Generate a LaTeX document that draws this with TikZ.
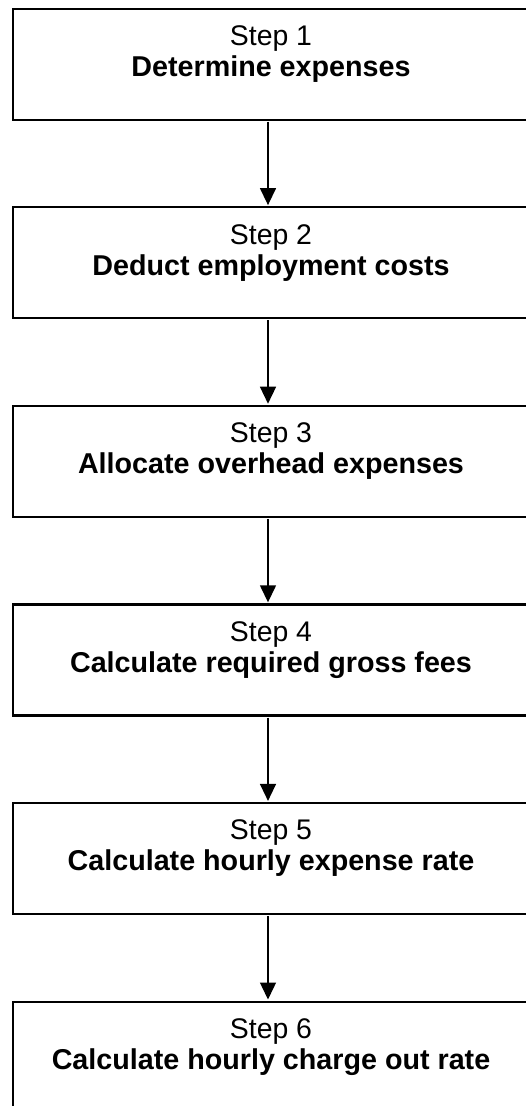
\documentclass[tikz,border=0pt]{standalone}
\usepackage{fontspec}
\setmainfont{Liberation Sans}
\usetikzlibrary{arrows.meta}
\tikzset{
  stepbox/.style={draw=black, line width=2.2bp, rectangle, minimum width=516bp, minimum height=111bp, inner sep=0pt, anchor=north},
  steplbl/.style={anchor=base, inner sep=0pt, font=\fontsize{28.5}{32}\selectfont},
  titlelbl/.style={anchor=base, inner sep=0pt, font=\fontsize{28.8}{32}\selectfont\bfseries},
  flow/.style={line width=1.4bp, -{Triangle[width=16bp,length=17bp]}, shorten <=1bp, shorten >=1bp}
}
\begin{document}
\begin{tikzpicture}[x=1bp,y=-1bp]
\clip (0,0) rectangle (526,1106);
\foreach \i/\txt in {1/Determine expenses,2/Deduct employment costs,3/Allocate overhead expenses,4/Calculate required gross fees,5/Calculate hourly expense rate,6/Calculate hourly charge out rate}{
  \node[stepbox] (b\i) at (271,{7.5+198.6*(\i-1)}) {};
  \node[steplbl] (s\i) at ([yshift=-38bp]b\i.north) {Step \i};
  \node[titlelbl] (t\i) at ([yshift=-69bp]b\i.north) {\txt};
}
\foreach \i/\j in {1/2,2/3,3/4,4/5,5/6}{
  \draw[flow] ([xshift=-3bp]b\i.south) -- ([xshift=-3bp]b\j.north);
}
\end{tikzpicture}
\end{document}
